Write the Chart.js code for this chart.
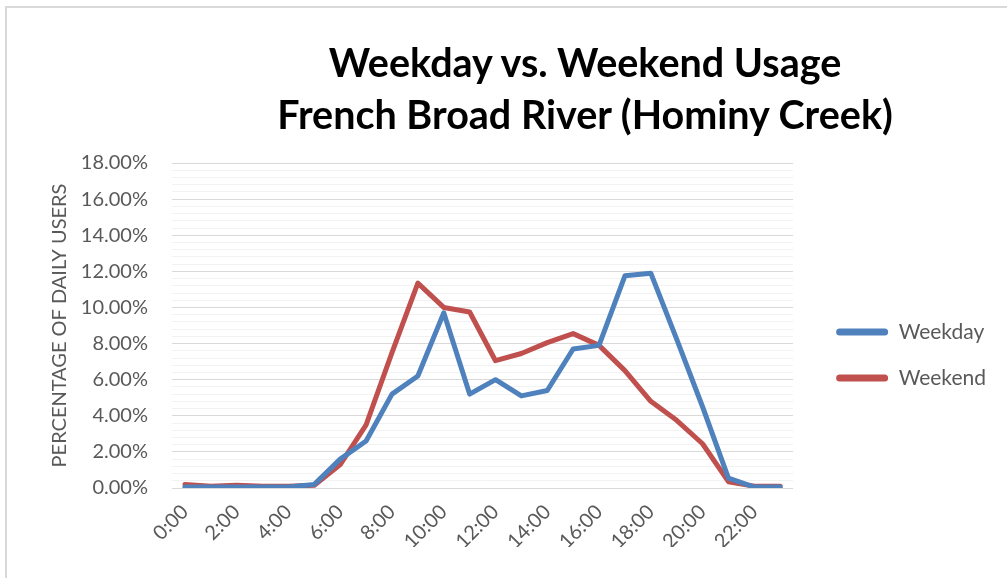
<!DOCTYPE html>
<html>
<head>
<meta charset="utf-8">
<title>Weekday vs. Weekend Usage</title>
<script src="https://cdn.jsdelivr.net/npm/chart.js@4.4.1/dist/chart.umd.min.js"></script>
<style>
    html, body { margin: 0; padding: 0; background: #fff; overflow: hidden; }
    #frame { position: absolute; left: 5px; top: 6px; width: 1100px; height: 700px; border: 2px solid #d9d9d9; }
    #wrap { position: absolute; left: 0; top: 0; width: 1007px; height: 578px; }
    #title {
        position: absolute; left: 235px; top: 36px; width: 700px;
        text-align: center; font: bold 39.5px Lato, sans-serif; line-height: 52px; color: #000;
    }
</style>
</head>
<body>
<div id="frame"></div>
<div id="wrap"><canvas id="usageChart"></canvas></div>
<div id="title">Weekday vs. Weekend Usage<br>French Broad River (Hominy Creek)</div>
<script>
const hours = ['0:00', '1:00', '2:00', '3:00', '4:00', '5:00', '6:00', '7:00', '8:00', '9:00', '10:00', '11:00',
    '12:00', '13:00', '14:00', '15:00', '16:00', '17:00', '18:00', '19:00', '20:00', '21:00', '22:00', '23:00'];

// share of daily users per hour, in percent
const weekday = [0.05, 0.05, 0.05, 0.05, 0.05, 0.2, 1.6, 2.6, 5.2, 6.2, 9.7, 5.2,
    6.0, 5.1, 5.4, 7.7, 7.9, 11.75, 11.9, 8.25, 4.5, 0.55, 0.05, 0.05];
const weekend = [0.2, 0.1, 0.15, 0.1, 0.1, 0.15, 1.3, 3.5, 7.5, 11.35, 10.0, 9.75,
    7.05, 7.45, 8.05, 8.55, 7.9, 6.5, 4.8, 3.75, 2.45, 0.35, 0.1, 0.1];

const yMax = 18;
const yStep = 0.4;   // minor gridlines
const yLabelStep = 2; // labelled gridlines

const grey = '#595959';
const fontFamily = 'Lato, sans-serif';

function isMajor(v) {
    return Math.abs(v / yLabelStep - Math.round(v / yLabelStep)) < 1e-6;
}

function drawChart() {
    const ctx = document.getElementById('usageChart');
    new Chart(ctx, {
        type: 'line',
        data: {
            labels: hours,
            datasets: [{
                label: 'Weekday',
                data: weekday,
                borderColor: '#4f81bd',
                backgroundColor: '#4f81bd',
                borderWidth: 5,
                pointRadius: 0,
                borderJoinStyle: 'round',
                borderCapStyle: 'round',
                tension: 0
            }, {
                label: 'Weekend',
                data: weekend,
                borderColor: '#c0504d',
                backgroundColor: '#c0504d',
                borderWidth: 5,
                pointRadius: 0,
                borderJoinStyle: 'round',
                borderCapStyle: 'round',
                tension: 0
            }]
        },
        options: {
            responsive: true,
            maintainAspectRatio: false,
            animation: false,
            layout: {
                padding: { left: 40, top: 163, bottom: 31, right: 11 }
            },
            plugins: {
                title: { display: false },
                tooltip: { enabled: false },
                legend: {
                    position: 'right',
                    maxWidth: 260,
                    labels: {
                        boxWidth: 52,
                        boxHeight: 7,
                        padding: 25,
                        color: grey,
                        font: { family: fontFamily, size: 21 },
                        generateLabels(chart) {
                            return Chart.defaults.plugins.legend.labels.generateLabels(chart)
                                .map(item => ({ ...item, lineWidth: 0, borderRadius: 3.5 }));
                        }
                    }
                }
            },
            scales: {
                x: {
                    offset: true,
                    grid: { display: false },
                    border: { display: false },
                    ticks: {
                        autoSkip: false,
                        maxRotation: 45,
                        minRotation: 45,
                        padding: 4,
                        color: grey,
                        font: { family: fontFamily, size: 20 },
                        callback: (val, i) => (i % 2 === 0 ? hours[i] : '')
                    },
                    afterFit(scale) { scale.height = 59; }
                },
                y: {
                    min: 0,
                    max: yMax,
                    border: { display: false },
                    grid: {
                        drawTicks: false,
                        color: c => (isMajor(c.tick.value) ? '#d9d9d9' : '#f2f2f2')
                    },
                    ticks: {
                        stepSize: yStep,
                        autoSkip: false,
                        padding: 24,
                        color: grey,
                        font: { family: fontFamily, size: 20 },
                        callback: v => (isMajor(v) ? v.toFixed(2) + '%' : '')
                    },
                    title: {
                        display: true,
                        text: 'PERCENTAGE OF DAILY USERS',
                        color: grey,
                        font: { family: fontFamily, size: 20 },
                        padding: { top: 8, bottom: 0 }
                    },
                    afterFit(scale) { scale.width = 132; }
                },
                gap: {
                    position: 'right',
                    grid: { display: false },
                    border: { display: false },
                    ticks: { display: false },
                    afterFit(scale) { scale.width = 18; }
                }
            }
        }
    });
}

Promise.all([
    document.fonts.load('20px Lato'),
    document.fonts.load('bold 39.5px Lato')
]).then(drawChart, drawChart);
</script>
</body>
</html>
